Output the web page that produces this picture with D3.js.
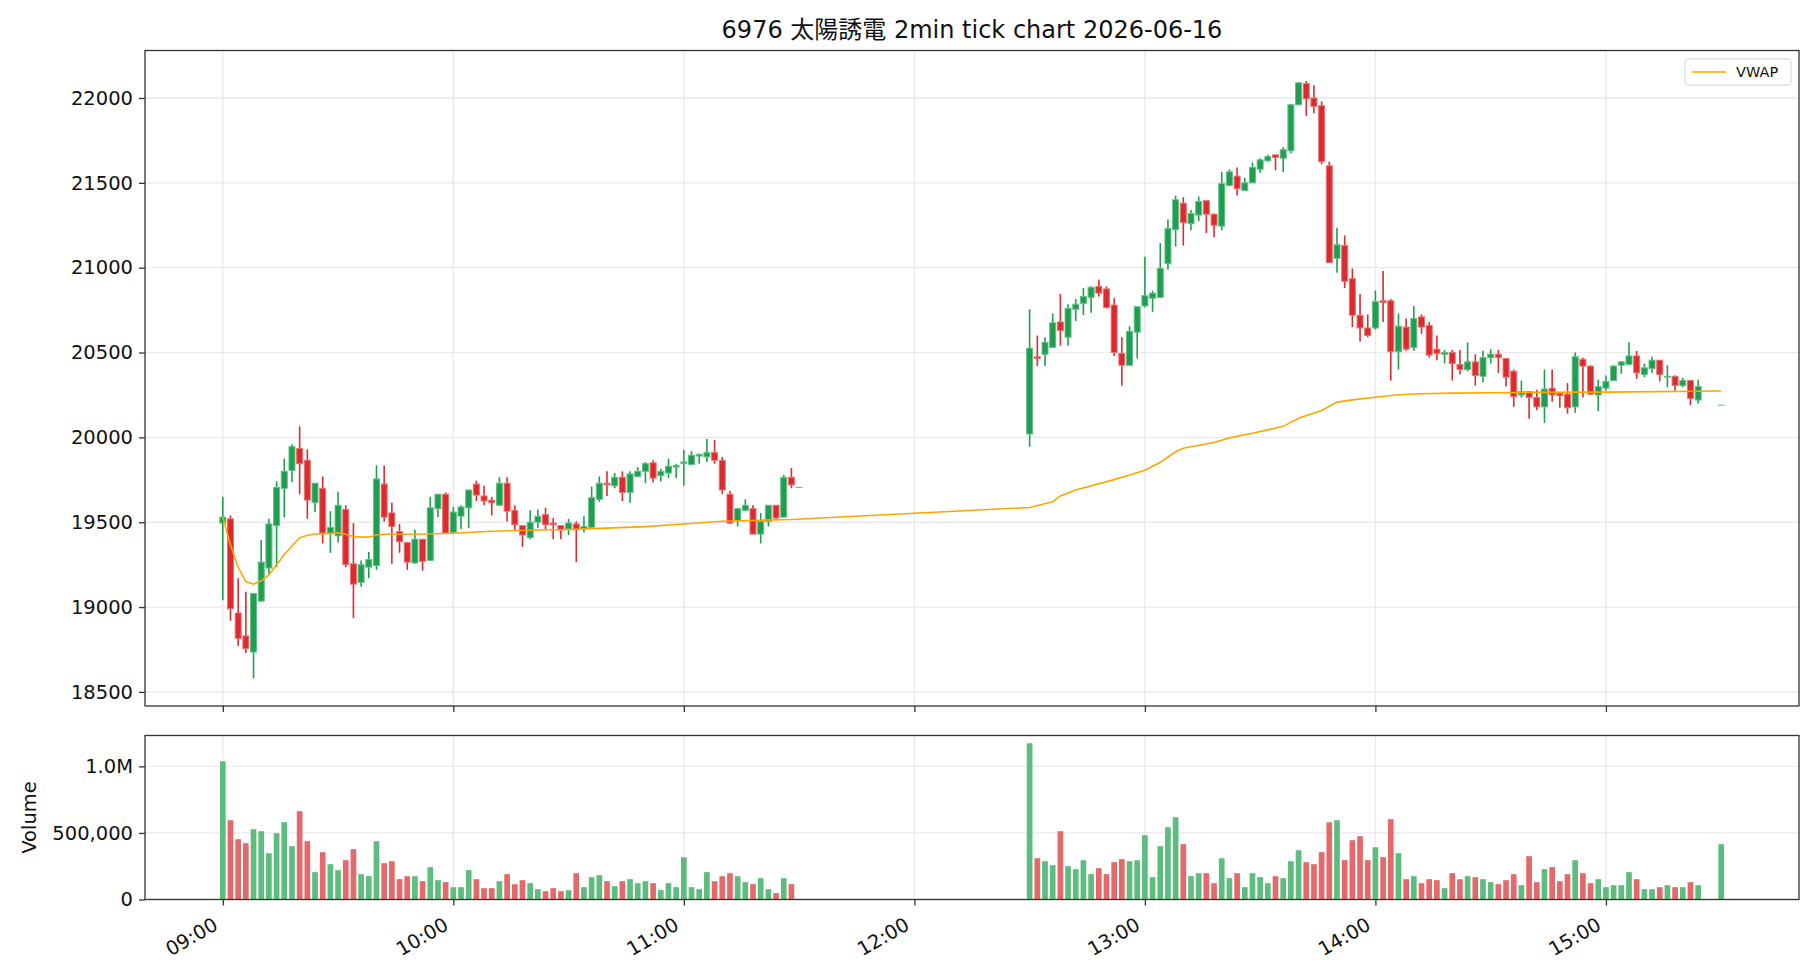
<!DOCTYPE html>
<html><head><meta charset="utf-8">
<script src="https://cdn.jsdelivr.net/npm/d3@7"></script>
<style>
body{margin:0;background:#fff;}
text{font-family:"DejaVu Sans","Noto Sans CJK JP",sans-serif;fill:#111;}
</style>
</head><body>
<svg id="c" width="1820" height="980"></svg>
<script>
// ---------------- data ----------------
const chartTitle = "6976 太陽誘電 2min tick chart 2026-06-16";
const sessionStarts = ["09:00", "12:30"];

// Morning session 2-min bars (09:00 .. 11:28)
const amOpen = [
 19495,19520,18965,18830,18735,19035,19230,19480,19700,19805,
 19935,19865,19615,19700,19435,19420,19575,19255,19145,19235,
 19245,19725,19555,19445,19380,19260,19400,19275,19580,19665,
 19440,19535,19585,19725,19655,19630,19600,19730,19570,19480,
 19410,19500,19545,19495,19480,19460,19490,19460,19470,19635,
 19730,19715,19765,19675,19770,19800,19850,19775,19790,19825,
 19845,19840,19890,19885,19910,19865,19665,19510,19570,19580,
 19430,19505,19600,19530,19765];
const amHigh = [
 19650,19540,19170,19090,19080,19395,19520,19740,19875,19960,
 20065,19930,19730,19770,19565,19680,19600,19495,19275,19325,
 19835,19835,19615,19490,19380,19455,19400,19650,19665,19675,
 19590,19600,19690,19745,19715,19650,19765,19765,19600,19480,
 19570,19575,19585,19525,19480,19520,19505,19535,19710,19770,
 19800,19790,19800,19800,19825,19855,19865,19815,19875,19845,
 19925,19920,19905,19990,19985,19885,19685,19580,19635,19600,
 19555,19600,19600,19780,19820];
const amLow = [
 19040,18920,18770,18730,18580,19030,19195,19235,19530,19735,
 19665,19520,19560,19375,19320,19380,19235,18935,19120,19170,
 19220,19505,19255,19320,19220,19255,19215,19275,19530,19430,
 19430,19460,19465,19625,19600,19540,19600,19505,19455,19355,
 19400,19465,19455,19400,19400,19425,19265,19440,19465,19620,
 19655,19700,19625,19615,19765,19730,19735,19740,19760,19760,
 19715,19835,19845,19855,19845,19665,19490,19475,19570,19430,
 19375,19475,19515,19530,19700];
const amClose = [
 19530,18990,18815,18755,19080,19265,19490,19705,19800,19945,
 19845,19630,19730,19435,19470,19600,19250,19135,19250,19280,
 19755,19530,19475,19385,19265,19400,19270,19585,19665,19435,
 19560,19590,19690,19660,19625,19615,19730,19565,19485,19425,
 19500,19535,19485,19485,19455,19495,19455,19475,19645,19730,
 19720,19765,19675,19785,19800,19845,19760,19800,19830,19835,
 19855,19895,19900,19910,19865,19690,19495,19580,19600,19430,
 19505,19600,19525,19765,19720];
const amVolume = [
 1038700,595700,453000,423000,528100,513100,347900,498100,580700,400500,
 663300,438000,205200,355400,265300,220200,295300,377900,190200,175200,
 438000,272800,287800,152700,175200,175200,137600,242800,145200,130100,
 92600,92600,220200,152700,85100,85100,137600,190200,115100,145200,
 122600,77600,62600,85100,62600,70100,197700,92600,167700,182700,
 137600,100100,137600,152700,122600,137600,122600,70100,122600,92600,
 317800,92600,77600,205200,137600,175200,197700,175200,130100,115100,
 160200,77600,47600,160200,115100];

// Afternoon session 2-min bars (12:30 .. 15:24)
const pmOpen = [
 20020,20475,20490,20530,20680,20590,20755,20790,20825,20890,
 20875,20780,20495,20425,20620,20775,20820,20825,21025,21225,
 21380,21260,21310,21395,21315,21245,21485,21540,21455,21500,
 21580,21630,21665,21645,21690,21960,22085,22000,21955,21600,
 21055,21130,20935,20720,20645,20645,20805,20805,20505,20650,
 20530,20710,20660,20520,20490,20500,20430,20400,20445,20360,
 20470,20490,20465,20390,20250,20270,20235,20180,20290,20260,
 20255,20180,20460,20420,20250,20290,20335,20425,20430,20480,
 20370,20405,20455,20355,20360,20305,20335,20220];
const pmHigh = [
 20755,20600,20590,20730,20845,20785,20815,20880,20890,20930,
 20890,20820,20590,20655,20770,21065,20865,21145,21285,21425,
 21415,21340,21420,21395,21320,21565,21580,21590,21530,21620,
 21645,21665,21665,21710,21965,22090,22100,22075,21980,21625,
 21235,21190,20995,20845,20725,20865,20980,20815,20730,20700,
 20775,20725,20680,20600,20515,20515,20515,20560,20490,20510,
 20520,20515,20465,20400,20335,20270,20280,20400,20400,20265,
 20320,20500,20470,20425,20340,20365,20425,20450,20560,20510,
 20435,20475,20455,20425,20365,20350,20335,20340];
const pmLow = [
 19945,20420,20420,20530,20540,20540,20685,20720,20735,20830,
 20760,20480,20305,20425,20465,20765,20740,20825,20990,21125,
 21130,21220,21275,21205,21180,21220,21480,21425,21455,21500,
 21560,21625,21575,21565,21675,21960,21895,21910,21610,21030,
 20970,20880,20650,20565,20590,20635,20680,20335,20400,20510,
 20510,20610,20470,20455,20435,20335,20370,20390,20305,20325,
 20435,20380,20300,20180,20235,20110,20160,20085,20210,20175,
 20140,20145,20235,20250,20155,20275,20335,20375,20425,20345,
 20355,20380,20330,20295,20275,20295,20190,20200];
const pmClose = [
 20525,20465,20560,20675,20630,20760,20785,20830,20885,20850,
 20765,20500,20425,20625,20770,20835,20850,20995,21230,21400,
 21265,21320,21390,21315,21250,21495,21565,21465,21500,21590,
 21635,21655,21650,21695,21960,22090,21995,21950,21625,21030,
 21135,20920,20720,20645,20600,20800,20795,20505,20655,20520,
 20700,20650,20485,20495,20500,20435,20400,20445,20365,20470,
 20490,20470,20355,20240,20270,20235,20180,20285,20250,20245,
 20175,20475,20420,20255,20300,20330,20420,20445,20480,20380,
 20410,20455,20370,20360,20305,20335,20230,20300];
const pmVolume = [
 1173800,310300,287800,257800,513100,250300,227700,295300,190200,235300,
 190200,280300,302800,287800,295300,483000,167700,400400,543100,618200,
 415400,175200,197700,197700,122600,310300,160200,197700,92600,197700,
 167700,122600,175200,160200,287800,370400,280300,265300,355400,580600,
 595600,295300,445500,475500,295300,392900,317800,603200,347900,152700,
 175200,122600,152700,145200,85100,197700,152700,175200,167700,152700,
 130100,115100,145200,190200,107600,325400,130100,227700,242800,137600,
 190200,295300,197700,122600,152700,92600,107600,107600,205200,152700,
 77600,77600,92600,107600,92600,92600,130100,107600];

// Closing auction ticks
const auctionTimes = ["11:30", "15:30"];
const auctionPrices = [19705, 20190];
const auctionVolumes = [0, 415400];

// VWAP
const vwapTimes = ["09:00","09:02","09:04","09:06","09:08","09:10","09:12","09:14","09:16","09:18",
 "09:20","09:22","09:24","09:26","09:28","09:30","09:32","09:34","09:36","09:38","09:40","09:42",
 "09:50","10:00","10:10","10:20","10:30","10:40","10:50","11:00","11:10","11:20","11:28",
 "12:30","12:36","12:38","12:42","12:52","12:56","13:00","13:04","13:08","13:10","13:18","13:22",
 "13:28","13:36","13:40","13:46","13:50","13:54","14:00","14:06","14:12","14:20","14:40","15:00","15:30"];
const vwapValues = [19530,19365,19235,19150,19135,19155,19190,19250,19310,19360,
 19408,19423,19431,19433,19433,19437,19429,19416,19412,19412,19425,19429,
 19429,19435,19447,19453,19457,19465,19474,19490,19506,19512,19516,
 19587,19621,19655,19690,19751,19778,19806,19853,19915,19936,19970,19997,
 20024,20065,20113,20159,20208,20221,20237,20251,20257,20261,20265,20267,20273];

const priceTicks = [18500,19000,19500,20000,20500,21000,21500,22000];
const volumeTicks = [0, 500000, 1000000];
const hourTicks = ["09:00","10:00","11:00","12:00","13:00","14:00","15:00"];

// ---------------- helpers ----------------
const at = (s) => { const p = s.split(":").map(Number); return new Date(2026, 5, 16, p[0], p[1], p[2] || 0); };
const bars = [];
function addSession(start, O, Hh, L, C, V) {
  O.forEach((o, i) => bars.push({t: d3.timeMinute.offset(at(start), 2 * i), o, h: Hh[i], l: L[i], c: C[i], v: V[i]}));
}
addSession(sessionStarts[0], amOpen, amHigh, amLow, amClose, amVolume);
addSession(sessionStarts[1], pmOpen, pmHigh, pmLow, pmClose, pmVolume);
auctionTimes.forEach((s, i) => bars.push({t: at(s), o: auctionPrices[i], h: auctionPrices[i], l: auctionPrices[i], c: auctionPrices[i], v: auctionVolumes[i]}));

const GREEN = "#1f9e50", RED = "#dc2b2e";
const GREEN_EDGE = "#62c088", RED_EDGE = "#e87373";
const VGREEN = "#5dbd7e", VRED = "#e5696a";

const svg = d3.select("#c");
const M = {l: 145, r: 1799, t: 50.5, b: 706};
const Vb = {t: 735.5, b: 899.5};

const x = d3.scaleTime().domain([at("08:39:45"), at("15:50:15")]).range([M.l, M.r]);
const y = d3.scaleLinear().domain([18417, 22280]).range([M.b, M.t]);
const yv = d3.scaleLinear().domain([0, 1232000]).range([Vb.b, Vb.t]);
const step = x(at("09:02")) - x(at("09:00"));
const bw = step * 0.78, vw = step * 0.74;

// grids
const grid = svg.append("g").attr("stroke", "#e9e9e9").attr("stroke-width", 1.3);
hourTicks.forEach(h => {
  grid.append("line").attr("x1", x(at(h))).attr("x2", x(at(h))).attr("y1", M.t).attr("y2", M.b);
  grid.append("line").attr("x1", x(at(h))).attr("x2", x(at(h))).attr("y1", Vb.t).attr("y2", Vb.b);
});
priceTicks.forEach(p => grid.append("line").attr("x1", M.l).attr("x2", M.r).attr("y1", y(p)).attr("y2", y(p)));
volumeTicks.forEach(v => grid.append("line").attr("x1", M.l).attr("x2", M.r).attr("y1", yv(v)).attr("y2", yv(v)));

// candles
const cg = svg.append("g");
bars.forEach(d => {
  const up = d.c >= d.o;
  const cx = x(d.t);
  cg.append("line").attr("x1", cx).attr("x2", cx).attr("y1", y(d.h)).attr("y2", y(d.l))
    .attr("stroke", up ? GREEN : RED).attr("stroke-width", 1.6);
  const y0 = y(Math.max(d.o, d.c)), y1 = y(Math.min(d.o, d.c));
  cg.append("rect").attr("x", cx - bw / 2).attr("y", y0).attr("width", bw).attr("height", Math.max(0.01, y1 - y0))
    .attr("fill", up ? GREEN : RED).attr("stroke", up ? GREEN_EDGE : RED_EDGE).attr("stroke-width", 1);
});

// VWAP
svg.append("path").datum(vwapTimes.map((t, i) => [at(t), vwapValues[i]]))
  .attr("fill", "none").attr("stroke", "#ffa500").attr("stroke-width", 1.6)
  .attr("d", d3.line().x(d => x(d[0])).y(d => y(d[1])));

// volume bars
svg.append("g").selectAll("rect").data(bars.filter(d => d.v > 0)).join("rect")
  .attr("x", d => x(d.t) - vw / 2).attr("width", vw)
  .attr("y", d => yv(d.v)).attr("height", d => yv(0) - yv(d.v))
  .attr("fill", d => d.c >= d.o ? VGREEN : VRED);

// axes
const FS = 19.5;
function styleAxis(g) {
  g.select(".domain").remove();
  g.selectAll(".tick line").attr("stroke", "#333").attr("stroke-width", 1.3);
  g.selectAll(".tick text").attr("font-size", FS).attr("fill", "#111")
    .style("font-family", '"DejaVu Sans","Noto Sans CJK JP",sans-serif');
}
svg.append("g").attr("transform", `translate(${M.l},0)`)
  .call(d3.axisLeft(y).tickValues(priceTicks).tickSize(6).tickPadding(6).tickFormat(d3.format("d"))).call(styleAxis);
svg.append("g").attr("transform", `translate(0,${M.b})`)
  .call(d3.axisBottom(x).tickValues(hourTicks.map(at)).tickSize(6).tickFormat("")).call(styleAxis);
const vfmt = v => v >= 1e6 ? (v / 1e6).toFixed(1) + "M" : d3.format(",")(v);
svg.append("g").attr("transform", `translate(${M.l},0)`)
  .call(d3.axisLeft(yv).tickValues(volumeTicks).tickSize(6).tickPadding(6).tickFormat(vfmt)).call(styleAxis);
const xa = svg.append("g").attr("transform", `translate(0,${Vb.b})`)
  .call(d3.axisBottom(x).tickValues(hourTicks.map(at)).tickSize(6).tickFormat(d3.timeFormat("%H:%M"))).call(styleAxis);
xa.selectAll(".tick text").attr("x", 0).attr("y", 0).attr("dy", 0)
  .attr("text-anchor", "end").attr("transform", "translate(-4,29) rotate(-30)");

// frames
[[M.t, M.b], [Vb.t, Vb.b]].forEach(([t, b]) => svg.append("rect").attr("x", M.l).attr("y", t)
  .attr("width", M.r - M.l).attr("height", b - t).attr("fill", "none").attr("stroke", "#333").attr("stroke-width", 1.3));

// labels
svg.append("text").attr("x", (M.l + M.r) / 2).attr("y", 38).attr("text-anchor", "middle")
  .attr("font-size", 24).text(chartTitle);
svg.append("text").attr("transform", `translate(36,${(Vb.t + Vb.b) / 2}) rotate(-90)`)
  .attr("text-anchor", "middle").attr("font-size", FS).text("Volume");

// legend
const lg = svg.append("g");
lg.append("rect").attr("x", 1685).attr("y", 59).attr("width", 106).attr("height", 26).attr("rx", 3)
  .attr("fill", "#fff").attr("fill-opacity", 0.8).attr("stroke", "#d5d5d5");
lg.append("line").attr("x1", 1692).attr("x2", 1726).attr("y1", 72).attr("y2", 72).attr("stroke", "#ffa500").attr("stroke-width", 1.6);
lg.append("text").attr("x", 1736).attr("y", 72).attr("dy", "0.35em").attr("font-size", 14.5).text("VWAP");
</script>
</body></html>
